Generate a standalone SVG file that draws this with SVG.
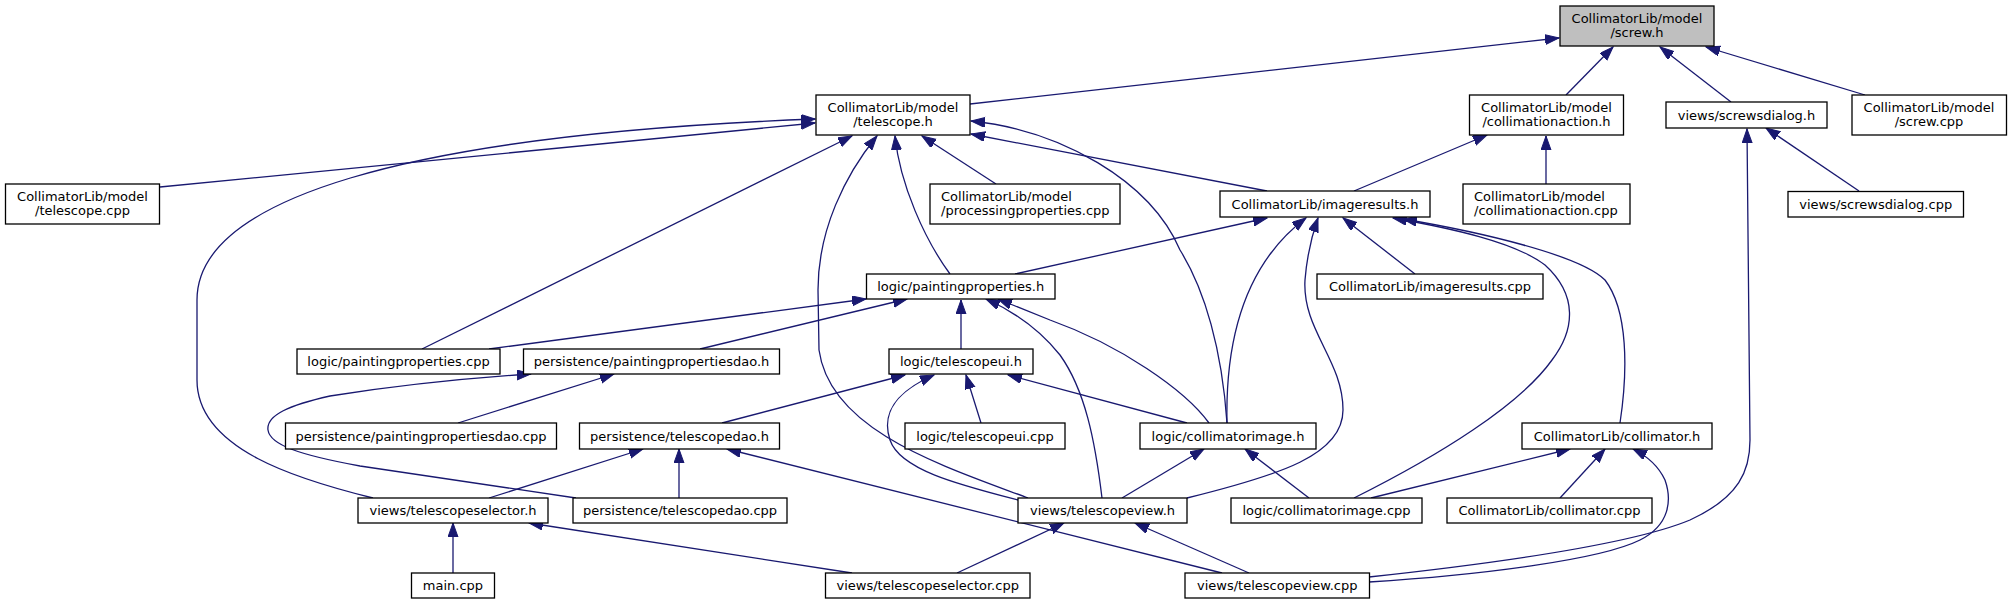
<svg xmlns="http://www.w3.org/2000/svg" width="2012" height="604" viewBox="0 0 2012 604">
<style>
.n rect{fill:#ffffff;stroke:#000000;stroke-width:1.3}
.n text{font-family:"DejaVu Sans","Liberation Sans",sans-serif;font-size:13px;fill:#000000;text-anchor:middle}
.n text.l{text-anchor:start}
#screw_h rect{fill:#bfbfbf}
.e path{fill:none;stroke:#191970;stroke-width:1.3;marker-end:url(#ah)}
</style>
<defs>
<marker id="ah" markerUnits="userSpaceOnUse" markerWidth="15" markerHeight="11" refX="14" refY="5" orient="auto" viewBox="0 0 15 11">
<path d="M0,0 L14,5 L0,10 z" fill="#191970" stroke="#191970" stroke-width="1"/>
</marker>
</defs>
<rect width="2012" height="604" fill="#ffffff"/>
<g id="edges" class="e">
<path d="M970,104 L1559,38"/>
<path d="M1566,95 L1613,47"/>
<path d="M1731,102 L1660,47"/>
<path d="M1865,95 L1706,47"/>
<path d="M160,187 L815,123"/>
<path d="M373,498 C300,480 197,450 197,380 L197,300 C197,200 400,135 815,119"/>
<path d="M422,349 L852,136"/>
<path d="M1028,498 C940,465 830,430 819,350 L818,290 C818,230 845,175 877,136"/>
<path d="M950,274 C925,240 900,185 895,136"/>
<path d="M996,184 L922,136"/>
<path d="M1227,423 C1222,350 1205,290 1180,250 C1150,180 1060,130 971,121"/>
<path d="M1267,191 L971,134"/>
<path d="M1354,191 L1487,135"/>
<path d="M1546,184 L1546,136"/>
<path d="M1859,191 L1766,128"/>
<path d="M1369,577 C1480,565 1630,545 1690,520 C1740,497 1750,470 1750,440 L1747,129"/>
<path d="M1015,274 L1267,218"/>
<path d="M1227,423 C1225,330 1250,260 1306,218"/>
<path d="M1187,498 C1280,475 1343,455 1343,410 C1343,360 1302,330 1305,280 C1307,255 1312,235 1318,218"/>
<path d="M1415,274 L1343,218"/>
<path d="M1354,498 C1440,455 1520,405 1552,360 C1575,330 1578,295 1545,265 C1515,242 1450,228 1393,218"/>
<path d="M1620,423 C1628,370 1628,310 1605,280 C1580,255 1480,232 1403,219"/>
<path d="M489,349 L866,299"/>
<path d="M700,349 L907,299"/>
<path d="M961,349 L961,300"/>
<path d="M1102,498 C1095,440 1085,390 1060,355 C1040,330 1015,312 986,299"/>
<path d="M1209,423 C1185,390 1120,345 1050,320 L998,299"/>
<path d="M458,423 L614,374"/>
<path d="M576,498 L360,466 C300,455 270,445 268,430 C266,415 290,405 330,396 C400,385 470,378 531,374"/>
<path d="M722,423 L905,375"/>
<path d="M1018,500 C960,485 900,470 890,440 C880,410 900,390 934,375"/>
<path d="M981,423 L966,375"/>
<path d="M1187,423 L1008,375"/>
<path d="M489,498 L643,449"/>
<path d="M679,498 L679,449"/>
<path d="M1222,573 L727,449"/>
<path d="M1122,498 L1204,449"/>
<path d="M1309,498 L1245,449"/>
<path d="M1371,498 L1570,449"/>
<path d="M1560,498 L1605,449"/>
<path d="M1369,582 C1480,575 1600,560 1640,540 C1670,525 1672,500 1665,480 C1658,465 1645,455 1633,449"/>
<path d="M453,573 L453,523"/>
<path d="M852,573 L529,523"/>
<path d="M957,573 L1064,523"/>
<path d="M1249,573 L1135,523"/>
</g>
<g id="screw_h" class="n"><rect x="1560" y="6" width="154" height="40"/><text x="1637" y="23">CollimatorLib/model</text><text x="1637" y="37">/screw.h</text></g>
<g id="telescope_h" class="n"><rect x="816" y="95" width="154" height="40"/><text x="893" y="112">CollimatorLib/model</text><text x="893" y="126">/telescope.h</text></g>
<g id="collimationaction_h" class="n"><rect x="1469.5" y="95" width="154" height="40"/><text x="1546.5" y="112">CollimatorLib/model</text><text x="1546.5" y="126">/collimationaction.h</text></g>
<g id="screwsdialog_h" class="n"><rect x="1666" y="102" width="161" height="26"/><text x="1746.5" y="119.5">views/screwsdialog.h</text></g>
<g id="screw_cpp" class="n"><rect x="1852" y="95" width="154.5" height="40"/><text x="1929" y="112">CollimatorLib/model</text><text x="1929" y="126">/screw.cpp</text></g>
<g id="telescope_cpp" class="n"><rect x="5.5" y="184" width="154" height="40"/><text x="82.5" y="201">CollimatorLib/model</text><text x="82.5" y="215">/telescope.cpp</text></g>
<g id="processingproperties_cpp" class="n"><rect x="930" y="184" width="190" height="40"/><text class="l" x="941" y="201">CollimatorLib/model</text><text class="l" x="941" y="215">/processingproperties.cpp</text></g>
<g id="imageresults_h" class="n"><rect x="1220" y="191" width="210" height="26"/><text x="1325" y="208.5">CollimatorLib/imageresults.h</text></g>
<g id="collimationaction_cpp" class="n"><rect x="1463" y="184" width="167" height="40"/><text class="l" x="1474" y="201">CollimatorLib/model</text><text class="l" x="1474" y="215">/collimationaction.cpp</text></g>
<g id="screwsdialog_cpp" class="n"><rect x="1788" y="191.5" width="175.5" height="25.5"/><text x="1875.7" y="208.5">views/screwsdialog.cpp</text></g>
<g id="paintingproperties_h" class="n"><rect x="866.5" y="274" width="188.5" height="25"/><text x="960.7" y="291">logic/paintingproperties.h</text></g>
<g id="imageresults_cpp" class="n"><rect x="1317" y="274" width="226" height="25"/><text x="1430" y="291">CollimatorLib/imageresults.cpp</text></g>
<g id="paintingproperties_cpp" class="n"><rect x="297" y="349" width="203" height="25"/><text x="398.5" y="366">logic/paintingproperties.cpp</text></g>
<g id="paintingpropertiesdao_h" class="n"><rect x="523.5" y="349" width="256" height="25"/><text x="651.5" y="366">persistence/paintingpropertiesdao.h</text></g>
<g id="telescopeui_h" class="n"><rect x="889" y="349" width="144" height="25"/><text x="961" y="366">logic/telescopeui.h</text></g>
<g id="paintingpropertiesdao_cpp" class="n"><rect x="285.5" y="423" width="271" height="26"/><text x="421" y="440.5">persistence/paintingpropertiesdao.cpp</text></g>
<g id="telescopedao_h" class="n"><rect x="579.5" y="423" width="200" height="26"/><text x="679.5" y="440.5">persistence/telescopedao.h</text></g>
<g id="telescopeui_cpp" class="n"><rect x="905" y="423" width="160" height="26"/><text x="985" y="440.5">logic/telescopeui.cpp</text></g>
<g id="collimatorimage_h" class="n"><rect x="1140" y="423" width="176" height="26"/><text x="1228" y="440.5">logic/collimatorimage.h</text></g>
<g id="collimator_h" class="n"><rect x="1522" y="423" width="190" height="26"/><text x="1617" y="440.5">CollimatorLib/collimator.h</text></g>
<g id="telescopeselector_h" class="n"><rect x="358" y="498" width="190" height="25"/><text x="453" y="515">views/telescopeselector.h</text></g>
<g id="telescopedao_cpp" class="n"><rect x="573" y="498" width="214" height="25"/><text x="680" y="515">persistence/telescopedao.cpp</text></g>
<g id="telescopeview_h" class="n"><rect x="1018" y="498" width="169" height="25"/><text x="1102.5" y="515">views/telescopeview.h</text></g>
<g id="collimatorimage_cpp" class="n"><rect x="1231" y="498" width="191" height="25"/><text x="1326.5" y="515">logic/collimatorimage.cpp</text></g>
<g id="collimator_cpp" class="n"><rect x="1447" y="498" width="205" height="25"/><text x="1549.5" y="515">CollimatorLib/collimator.cpp</text></g>
<g id="main_cpp" class="n"><rect x="411.5" y="573" width="83" height="25"/><text x="453" y="590">main.cpp</text></g>
<g id="telescopeselector_cpp" class="n"><rect x="825.5" y="573" width="204.5" height="25"/><text x="927.7" y="590">views/telescopeselector.cpp</text></g>
<g id="telescopeview_cpp" class="n"><rect x="1185" y="573" width="184.5" height="25"/><text x="1277.2" y="590">views/telescopeview.cpp</text></g>
</svg>
